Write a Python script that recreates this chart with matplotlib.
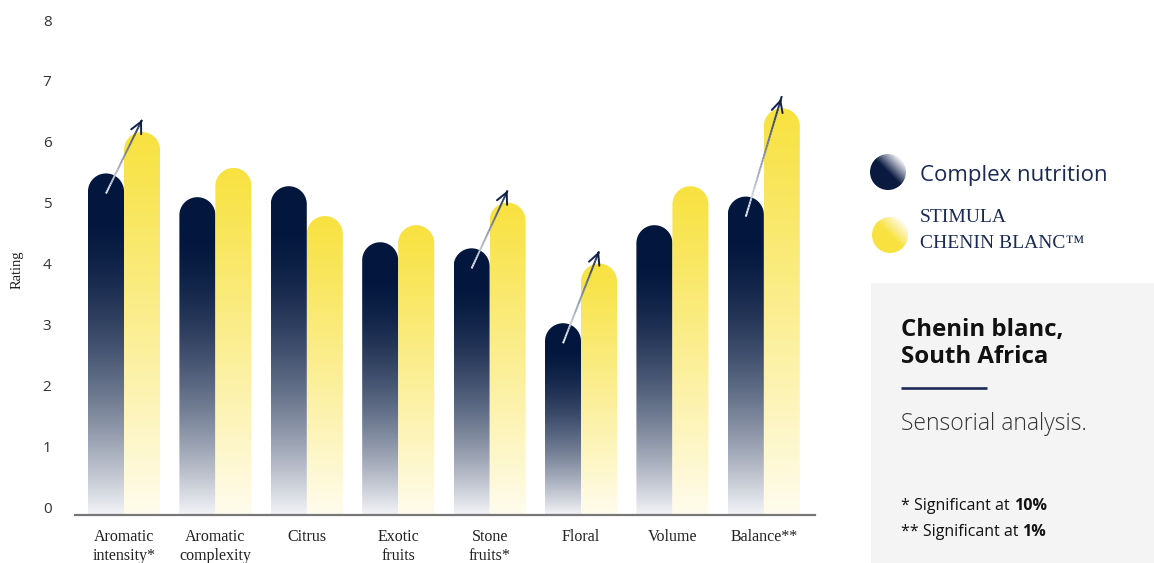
import numpy as np
import matplotlib
matplotlib.use('Agg')
import matplotlib.pyplot as plt
from matplotlib.colors import LinearSegmentedColormap, to_rgba
from matplotlib.patches import Polygon, Rectangle, Circle
from matplotlib.collections import LineCollection

# data
categories = ['Aromatic\nintensity*', 'Aromatic\ncomplexity', 'Citrus', 'Exotic\nfruits',
              'Stone\nfruits*', 'Floral', 'Volume', 'Balance**']
complex_nutrition = [5.48, 5.09, 5.27, 4.35, 4.25, 3.02, 4.63, 5.10]
stimula = [6.16, 5.57, 4.78, 4.63, 5.00, 4.00, 5.27, 6.55]
significant = [0, 4, 5, 7]   # categories with an arrow
yticks = list(range(9))

NAVY = '#1b2a55'
arrow_cmap = LinearSegmentedColormap.from_list('arrow', ['#eef0f5', '#8890a8', '#0f1f4a'])


def vgrad(c_top, c_bot, start, power, n=600):
    # smooth vertical gradient, top row first
    t = np.linspace(0, 1, n)
    f = np.clip((t - start) / (1 - start), 0, 1) ** power
    a = np.array(to_rgba(c_top))
    b = np.array(to_rgba(c_bot))
    return (a + (b - a) * f[:, None])[:, None, :]


navy_grad = vgrad('#03173e', '#f3f4f7', 0.12, 1.6)
yellow_grad = vgrad('#f8e240', '#fffcee', 0.0, 1.1)

W, H = 1154, 563
fig = plt.figure(figsize=(W / 100, H / 100), dpi=100)
ax = fig.add_axes([75 / W, 48 / H, 740 / W, 495 / H])
ymin, ymax = -0.13, 8
ax.set_xlim(-0.536, 7.56)
ax.set_ylim(ymin, ymax)
ax.autoscale(False)

bw = 0.394
# ratio to keep the rounded tops circular on screen
p0 = ax.transData.transform((0, 0))
p1 = ax.transData.transform((1, 1))
yx = (p1[0] - p0[0]) / (p1[1] - p0[1])


def round_bar(xc, top, grad):
    rx = bw / 2
    ry = rx * yx
    th = np.linspace(0, np.pi, 60)
    arc = np.column_stack([xc + rx * np.cos(th), top - ry + ry * np.sin(th)])
    pts = np.vstack([[xc + rx, ymin], arc, [xc - rx, ymin]])
    poly = Polygon(pts, closed=True, transform=ax.transData, facecolor='none', edgecolor='none')
    im = ax.imshow(grad, extent=(xc - rx, xc + rx, ymin, top), origin='upper',
                   aspect='auto', interpolation='bilinear', zorder=2)
    im.set_clip_path(poly)


x = np.arange(len(categories))
for i in x:
    round_bar(i - bw / 2, complex_nutrition[i], navy_grad)
    round_bar(i + bw / 2, stimula[i], yellow_grad)

# significance arrows
for i in significant:
    x0, y0 = i - bw / 2, complex_nutrition[i] - 0.33
    x1, y1 = i + bw / 2, stimula[i] + 0.2
    n = 40
    xs = np.linspace(x0, x1, n + 1)
    ys = np.linspace(y0, y1, n + 1)
    segs = np.stack([np.column_stack([xs[:-1], ys[:-1]]), np.column_stack([xs[1:], ys[1:]])], axis=1)
    lc = LineCollection(segs, colors=arrow_cmap(np.linspace(0, 1, n)), linewidths=1.4, zorder=3)
    ax.add_collection(lc)
    ax.annotate('', xy=(x1, y1), xytext=(x1 - (x1 - x0) * 0.05, y1 - (y1 - y0) * 0.05),
                arrowprops=dict(arrowstyle='->', color='#0f1f4a', lw=1.4, mutation_scale=20),
                zorder=4)

for s in ['top', 'right', 'left']:
    ax.spines[s].set_visible(False)
ax.spines['bottom'].set_color('#777777')
ax.spines['bottom'].set_linewidth(1.6)

ax.set_yticks(yticks)
ax.set_yticklabels([str(v) for v in yticks], fontfamily='Open Sans', fontsize=11, color='#333333')
ax.tick_params(axis='y', length=0, pad=17)
ax.set_xticks(x)
ax.set_xticklabels(categories, fontfamily='Liberation Serif', fontsize=11.5, color='#222222',
                   linespacing=1.3)
ax.tick_params(axis='x', length=0, pad=10)

# overlay in pixel coordinates for labels, legend and info box
ov = fig.add_axes([0, 0, 1, 1], facecolor='none')
ov.set_xlim(0, W)
ov.set_ylim(H, 0)
ov.axis('off')

ov.text(17, 270, 'Rating', rotation=90, ha='center', va='center',
        fontfamily='Liberation Serif', fontsize=10.5, color='#222222')


def grad_circle(cx, cy, r, c0, c1):
    n = 80
    X, Y = np.meshgrid(np.linspace(cx - r, cx + r, n), np.linspace(cy - r, cy + r, n))
    t = ((X - cx) - (Y - cy)) / (2 * np.sqrt(2) * r) + 0.5
    cmap = LinearSegmentedColormap.from_list('c', [c0, c0, c1])
    im = ov.imshow(cmap(np.clip(t, 0, 1)), extent=(cx - r, cx + r, cy + r, cy - r),
                   origin='upper', aspect='auto', interpolation='bilinear')
    im.set_clip_path(Circle((cx, cy), r, transform=ov.transData))


grad_circle(888, 172, 18, '#0a1a40', '#f2f3f7')
grad_circle(890, 235, 18, '#f8e240', '#fffbe6')
ov.text(920, 175, 'Complex nutrition', fontfamily='Open Sans', fontsize=16, color=NAVY,
        va='center', ha='left')
ov.text(920, 217, 'STIMULA', fontfamily='Liberation Serif', fontsize=14, color=NAVY,
        va='center', ha='left')
ov.text(920, 243, 'CHENIN BLANC™', fontfamily='Liberation Serif', fontsize=14, color=NAVY,
        va='center', ha='left')

ov.add_patch(Rectangle((871, 283), W - 871, H - 283, facecolor='#f4f4f4', edgecolor='none'))
ov.text(901, 330, 'Chenin blanc,', fontfamily='Open Sans', fontweight='bold', fontsize=17.3,
        color='#111111', va='center')
ov.text(901, 357, 'South Africa', fontfamily='Open Sans', fontweight='bold', fontsize=17.3,
        color='#111111', va='center')
ov.plot([901, 987], [388, 388], color=NAVY, lw=1.9, solid_capstyle='butt')
ov.text(901, 424, 'Sensorial analysis.', fontfamily='Open Sans', fontweight='light', fontsize=16.5,
        color='#333333', va='center')

renderer = fig.canvas.get_renderer()
for yy, pre, bold in [(510, '* Significant at', '10%'), (536, '** Significant at', '1%')]:
    t = ov.text(901, yy, pre, fontfamily='Open Sans', fontsize=11.5, color='#111111', va='baseline')
    w = t.get_window_extent(renderer).width
    ov.text(901 + w + 4, yy, bold, fontfamily='Open Sans', fontweight='bold', fontsize=11.5,
            color='#111111', va='baseline')

plt.savefig('out.png', dpi=100)
